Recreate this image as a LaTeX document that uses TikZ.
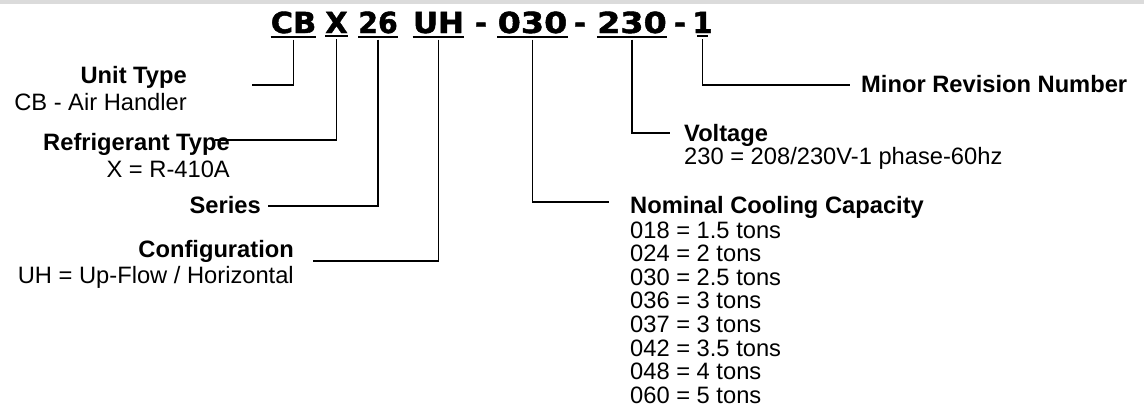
\documentclass[tikz,border=0pt]{standalone}
\usepackage{fontspec}
\setmainfont{Liberation Sans}
\newfontfamily\codefont{DejaVu Sans}[BoldFeatures={FakeBold=1.5}]
\usepackage{tikz}

\begin{document}
\begin{tikzpicture}[
    x=1pt, y=-1pt,
    part/.style={inner sep=0pt, anchor=base, font=\codefont\bfseries\fontsize{29}{30}\selectfont},
    title/.style={inner sep=0pt, font=\bfseries\fontsize{23.7}{26}\selectfont},
    desc/.style={inner sep=0pt, font=\fontsize{23.7}{26}\selectfont},
    uline/.style={line width=2pt},
    lead/.style={line width=1.8pt}
]
\useasboundingbox (0,0) rectangle (1144,413);
\fill[black!14] (0,0) rectangle (1144,4);

% Model number
\node[part] (c-cb) at (293.5,33) {\scalebox{1.05}[1]{CB}};
\node[part] (c-x) at (336.5,33) {X};
\node[part] (c-ser) at (378,33) {\scalebox{0.98}[1]{26}};
\node[part] (c-uh) at (438.5,33) {\scalebox{1.07}[1]{UH}};
\node[part] (h-1) at (481,33) {-};
\node[part] (c-cap) at (532.5,33) {\scalebox{1.15}[1]{030}};
\node[part] (h-2) at (580,33) {-};
\node[part] (c-volt) at (632,33) {\scalebox{1.15}[1]{230}};
\node[part] (h-3) at (680,33) {-};
\node[part] (c-rev) at (702.5,33) {\makebox[11pt]{1}};

\foreach \p in {c-cb,c-x,c-ser,c-uh,c-cap,c-volt,c-rev}
  \draw[uline] ([yshift=-3pt]\p.south west) -- ([yshift=-3pt]\p.south east);

% Left labels
\node[title, anchor=base east] (utype) at (187,83) {Unit Type};
\node[desc, anchor=base east] (utype-d) at ([yshift=-27pt]utype.base east) {CB - Air Handler};
\node[title, anchor=base east] (rtype) at (230,150) {Refrigerant Type};
\node[desc, anchor=base east] (rtype-d) at ([yshift=-27pt]rtype.base east) {X = R-410A};
\node[title, anchor=base east] (series) at (261,213) {Series};
\node[title, anchor=base east] (config) at (294,257) {Configuration};
\node[desc, anchor=base east] (config-d) at ([yshift=-26pt]config.base east) {UH = Up-Flow / Horizontal};

% Right labels
\node[title, anchor=base west] (minor) at (861,92) {Minor Revision Number};
\node[title, anchor=base west] (volt) at (684,141) {Voltage};
\node[desc, anchor=base west] (volt-d) at ([yshift=-23pt]volt.base west) {230 = 208/230V-1 phase-60hz};
\node[title, anchor=base west] (nom) at (630,213) {Nominal Cooling Capacity};
\foreach \cc/\tn [count=\i] in {018/1.5, 024/2, 030/2.5, 036/3, 037/3, 042/3.5, 048/4, 060/5}
  \node[desc, anchor=base west] (cap-\i) at ([yshift={-25pt-(\i-1)*23.6pt}]nom.base west) {\cc{} = \tn{} tons};

% Leaders
\coordinate (utype-end) at (252,85);
\coordinate (rtype-end) at (215,140);
\coordinate (series-end) at (268,206);
\coordinate (config-end) at (313,261);
\coordinate (nom-end) at (609,202);
\coordinate (volt-end) at (670,133);
\coordinate (minor-end) at (850,85);

\draw[lead] ([yshift=-6pt]c-cb.south) |- (utype-end);
\draw[lead] ([yshift=-6pt]c-x.south) |- (rtype-end);
\draw[lead] ([yshift=-6pt]c-ser.south) |- (series-end);
\draw[lead] ([yshift=-6pt]c-uh.south) |- (config-end);
\draw[lead] ([yshift=-6pt]c-cap.south) |- (nom-end);
\draw[lead] ([yshift=-6pt]c-volt.south) |- (volt-end);
\draw[lead] ([yshift=-6pt]c-rev.south) |- (minor-end);

\end{tikzpicture}
\end{document}
